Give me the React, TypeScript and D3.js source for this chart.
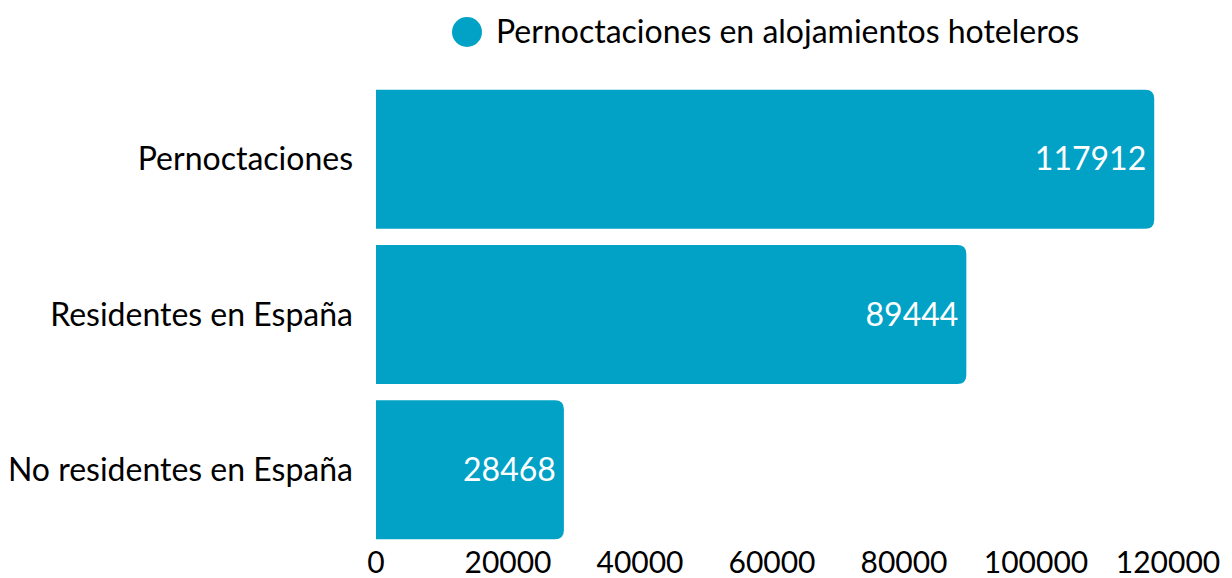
import React from "react";
import * as d3 from "d3";

const categories = ["Pernoctaciones", "Residentes en España", "No residentes en España"];
const values = [117912, 89444, 28468];
const ticks = [0, 20000, 40000, 60000, 80000, 100000, 120000];
const seriesName = "Pernoctaciones en alojamientos hoteleros";
const color = "#01a2c6";

const W = 1232, H = 578;
const x0 = 376;

function barPath(x: number, y: number, w: number, h: number, r: number) {
  const rr = Math.min(r, w / 2, h / 2);
  return `M${x},${y}H${x + w - rr}Q${x + w},${y} ${x + w},${y + rr}V${y + h - rr}Q${x + w},${y + h} ${x + w - rr},${y + h}H${x}Z`;
}

export default function App() {
  const x = d3.scaleLinear().domain([0, 120000]).range([x0, x0 + 792]);
  const y = d3.scaleBand<string>().domain(categories).range([82, 547]).paddingInner(0.105).paddingOuter(0.05);
  const font = "Lato, 'Open Sans', sans-serif";
  return (
    <svg width={W} height={H} style={{ position: "absolute", left: 0, top: 0 }} fontFamily={font}>
      <circle cx={467} cy={32} r={15} fill={color} />
      <text x={496} y={32} dy="0.35em" fontSize={32} fill="#000">{seriesName}</text>
      {categories.map((c, i) => {
        const by = y(c)!;
        const bh = y.bandwidth();
        const xe = x(values[i]);
        return (
          <g key={c}>
            <path d={barPath(x0, by, xe - x0, bh, 9)} fill={color} />
            <text x={353} y={by + bh / 2} dy="0.35em" textAnchor="end" fontSize={32} fill="#000">{c}</text>
            <text x={xe - 8} y={by + bh / 2} dy="0.35em" textAnchor="end" fontSize={32} fill="#fff">{values[i]}</text>
          </g>
        );
      })}
      {ticks.map((t) => (
        <text key={t} x={x(t)} y={562} dy="0.35em" textAnchor="middle" fontSize={30} fill="#000">{t}</text>
      ))}
    </svg>
  );
}
